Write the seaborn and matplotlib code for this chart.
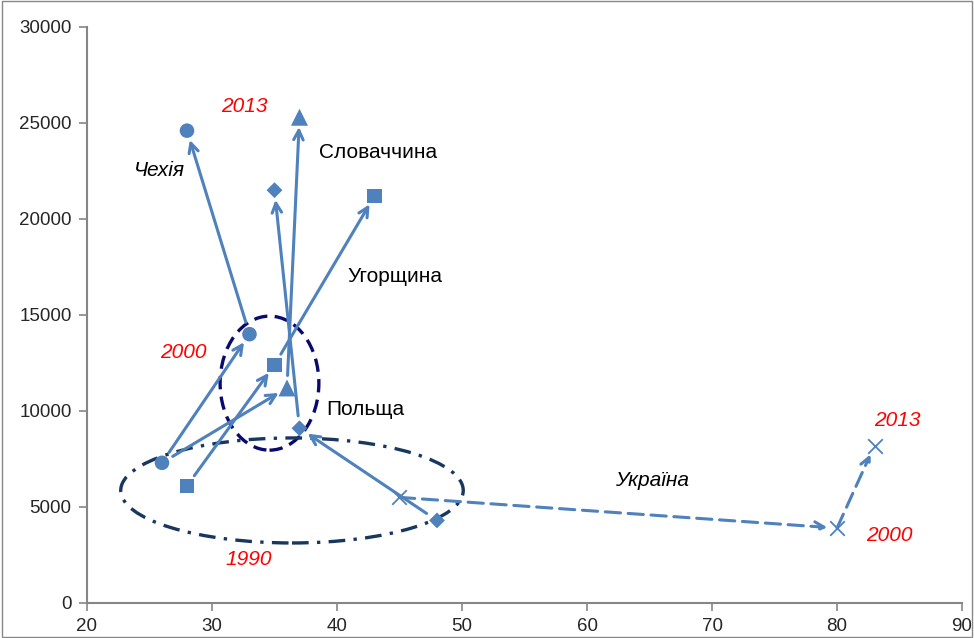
import numpy as np
import pandas as pd
import seaborn as sns
import matplotlib.pyplot as plt
from matplotlib.patches import Ellipse

# countries and years (x, y)
countries = ['Чехія', 'Словаччина', 'Угорщина', 'Польща', 'Україна']
years = [1990, 2000, 2013]
x_vals = {
    'Чехія': [26, 33, 28],
    'Словаччина': [26, 36, 37],
    'Угорщина': [28, 35, 43],
    'Польща': [48, 37, 35],
    'Україна': [45, 80, 83],
}
y_vals = {
    'Чехія': [7300, 14000, 24600],
    'Словаччина': [7300, 11200, 25300],
    'Угорщина': [6100, 12400, 21200],
    'Польща': [4300, 9100, 21500],
    'Україна': [5500, 3900, 8200],
}
markers = {'Чехія': 'o', 'Словаччина': '^', 'Угорщина': 's', 'Польща': 'D'}
msizes = {'Чехія': 110, 'Словаччина': 150, 'Угорщина': 110, 'Польща': 65}

rows = []
for c in countries:
    for i, yr in enumerate(years):
        if c == 'Словаччина' and yr == 1990:
            continue  # hidden behind Czech point in original
        rows.append({'country': c, 'year': yr, 'x': x_vals[c][i], 'y': y_vals[c][i]})
df = pd.DataFrame(rows)

blue = '#4F81BD'
sns.set_style('white')
plt.rcParams['font.family'] = ['Liberation Sans', 'DejaVu Sans']

fig = plt.figure(figsize=(9.74, 6.38), dpi=100)
ax = fig.add_axes([0.0893, 0.0549, 0.8984, 0.9028])

# arrows between years
for c in countries:
    ls = (0, (5, 2.5)) if c == 'Україна' else '-'
    for i in range(2):
        shrink_a = 0 if c == 'Україна' else 9
        ax.annotate('', xy=(x_vals[c][i + 1], y_vals[c][i + 1]),
                    xytext=(x_vals[c][i], y_vals[c][i]),
                    arrowprops=dict(arrowstyle='->', color=blue, lw=2.2, linestyle=ls,
                                    shrinkA=shrink_a, shrinkB=7, mutation_scale=17))

other = df[df['country'] != 'Україна']
sns.scatterplot(data=other, x='x', y='y', style='country', markers=markers,
                size='country', sizes=msizes,
                color=blue, edgecolor=blue, linewidth=0, legend=False, ax=ax, zorder=3)
ukr = df[df['country'] == 'Україна']
ax.scatter(ukr['x'], ukr['y'], marker='x', s=110, color=blue, linewidths=1.3, zorder=3)

# ellipses
ax.add_patch(Ellipse((34.6, 11450), 7.9, 6980, fill=False, edgecolor='#0a0a6e',
                     lw=2.4, linestyle=(0, (4, 2.2)), zorder=2))
ax.add_patch(Ellipse((36.4, 5860), 27.4, 5470, fill=False, edgecolor='#17375E',
                     lw=2.4, linestyle=(0, (5, 2.5, 1, 2.5)), zorder=2))

# labels
red_kw = dict(color='red', style='italic', fontsize=15, ha='center', va='center')
blk_kw = dict(color='black', fontsize=15, ha='center', va='center')
ax.text(32.6, 25850, '2013', **red_kw)
ax.text(27.7, 13020, '2000', **red_kw)
ax.text(32.9, 2240, '1990', **red_kw)
ax.text(84.8, 9530, '2013', **red_kw)
ax.text(84.2, 3490, '2000', **red_kw)
ax.text(25.8, 22550, 'Чехія', style='italic', **blk_kw)
ax.text(43.3, 23440, 'Словаччина', **blk_kw)
ax.text(44.6, 16980, 'Угорщина', **blk_kw)
ax.text(42.3, 10100, 'Польща', **blk_kw)
ax.text(65.2, 6400, 'Україна', style='italic', **blk_kw)

ax.set_xlim(20, 90)
ax.set_ylim(0, 30000)
ax.set_xticks(range(20, 91, 10))
ax.set_yticks(range(0, 30001, 5000))
ax.set_xlabel('')
ax.set_ylabel('')
ax.tick_params(axis='both', direction='out', length=6, width=1.2, color='#868686',
               labelsize=13.5, pad=5, bottom=True, left=True)
for s in ['top', 'right']:
    ax.spines[s].set_visible(False)
for s in ['left', 'bottom']:
    ax.spines[s].set_color('#868686')
    ax.spines[s].set_linewidth(1.5)

# outer frame of the picture
fig.patches.append(plt.Rectangle((0.002, 0.002), 0.996, 0.996, transform=fig.transFigure,
                                 fill=False, edgecolor='#888888', lw=1))

fig.savefig('out.png', dpi=100)
